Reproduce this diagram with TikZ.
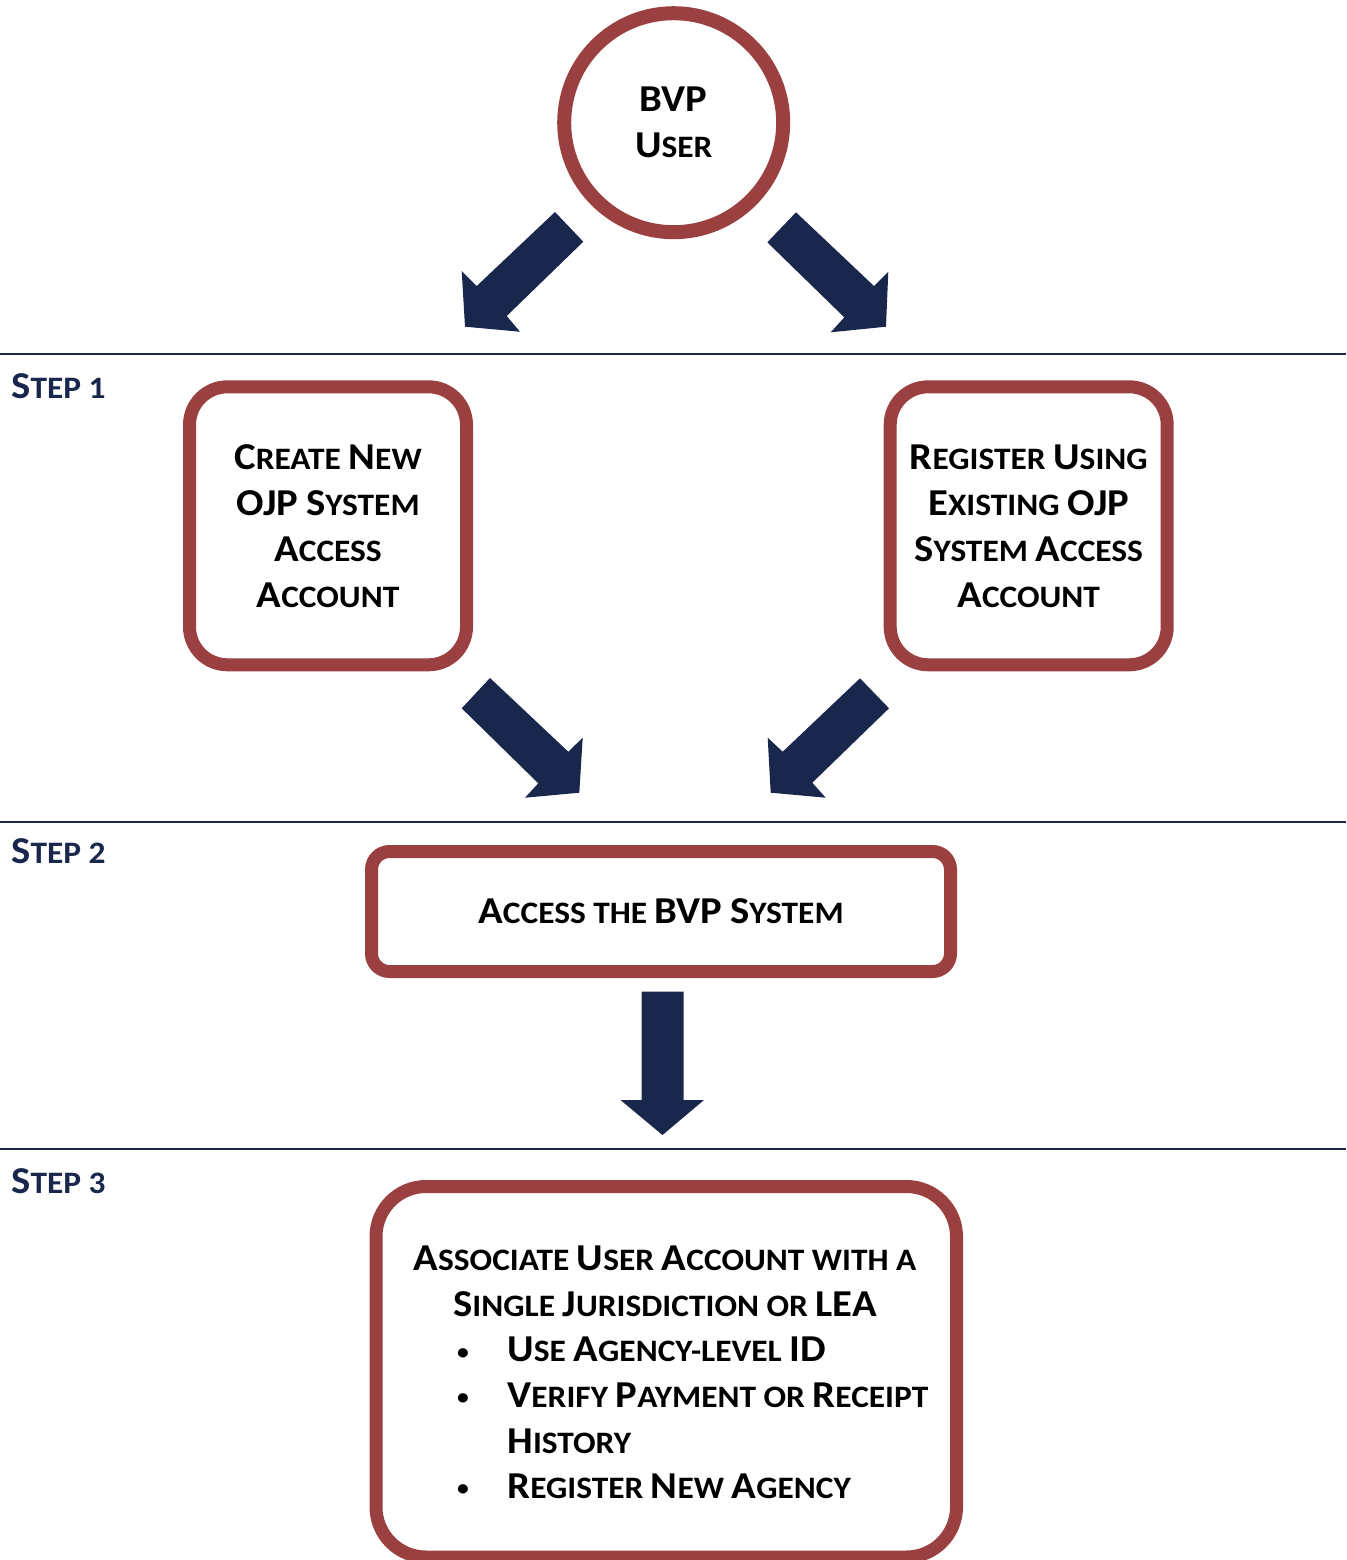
\documentclass[tikz,border=0pt]{standalone}
\usepackage{fontspec}
\setmainfont{Carlito}[FakeStretch=1.07]
\definecolor{bvpred}{RGB}{155,64,65}
\definecolor{bvpnavy}{RGB}{26,39,76}
\newcommand\capsz{\fontsize{19}{23}\selectfont}
\newcommand\smsz{\fontsize{15.6}{23}\selectfont}
\newcommand\K[1]{{\capsz #1}}
\begin{document}
\begin{tikzpicture}[x=0.5pt,y=-0.5pt,
  txt/.style={font=\bfseries\smsz, text=black, inner sep=0pt},
  bul/.style={font=\bfseries\fontsize{11}{11}\selectfont, text=black, inner sep=0pt},
  frame/.style={draw=bvpred, line width=6.5pt, fill=white, align=center, font=\bfseries\smsz, inner sep=0pt},
  steplbl/.style={font=\bfseries\smsz, text=bvpnavy, anchor=base west, inner sep=0pt},
  blockarrow/.style={fill=bvpnavy, draw=none},
  rule/.style={draw=bvpnavy, line width=1pt}]
\useasboundingbox (0,0) rectangle (1346,1560);

% separators
\draw[rule] (0,354) -- (1346,354);
\draw[rule] (0,822) -- (1346,822);
\draw[rule] (0,1149) -- (1346,1149);

% step labels
\node[steplbl] (s1) at (11,398) {\K{S}TEP 1};
\node[steplbl] (s2) at (11,863) {\K{S}TEP 2};
\node[steplbl] (s3) at (11,1193) {\K{S}TEP 3};

% user circle
\node[frame, circle, line width=7pt, minimum size=109.5pt] (user) at (673.7,122.7) {\K{BVP}\\\K{U}SER};

% step 1 boxes
\node[frame, rounded corners=19pt, minimum width=138.5pt, minimum height=139pt] (create) at (328,525.8)
  {\K{C}REATE \K{N}EW\\\K{OJP} \K{S}YSTEM\\\K{A}CCESS\\\K{A}CCOUNT};
\node[frame, rounded corners=19pt, minimum width=138.5pt, minimum height=139pt] (register) at (1028.7,525.8)
  {\K{R}EGISTER \K{U}SING\\\K{E}XISTING \K{OJP}\\\K{S}YSTEM \K{A}CCESS\\\K{A}CCOUNT};

% step 2 box
\node[frame, rounded corners=9pt, minimum width=289.5pt, minimum height=60pt] (access) at (661,911.5)
  {\K{A}CCESS THE \K{BVP} \K{S}YSTEM};

% step 3 box
\node[frame, rounded corners=25pt, minimum width=290.25pt, minimum height=185.25pt] (assoc) at (666.25,1371.75) {};
\node[txt, anchor=base] (h1) at (665,1270) {\K{A}SSOCIATE \K{U}SER \K{A}CCOUNT WITH A};
\node[txt, anchor=base] (h2) at (665,1316.7) {\K{S}INGLE \K{J}URISDICTION OR \K{LEA}};
\node[bul, anchor=base] (b1) at (463,1359) {\textbullet};
\node[bul, anchor=base] (b2) at (463,1404.6) {\textbullet};
\node[bul, anchor=base] (b3) at (463,1495.6) {\textbullet};
\node[txt, anchor=base west] (i1) at (507,1361.7) {\K{U}SE \K{A}GENCY-LEVEL \K{ID}};
\node[txt, anchor=base west] (i2) at (507,1407.3) {\K{V}ERIFY \K{P}AYMENT OR \K{R}ECEIPT};
\node[txt, anchor=base west] (i2b) at (507,1453.3) {\K{H}ISTORY};
\node[txt, anchor=base west] (i3) at (507,1498.3) {\K{R}EGISTER \K{N}EW \K{A}GENCY};

% block arrows
\fill[blockarrow] (555,212) -- (583.3,241.7) -- (506.7,316) -- (520,331.7) -- (465,326.7) -- (461.7,271) -- (476.7,286) -- cycle;
\fill[blockarrow] (796,212.3) -- (767.3,242.3) -- (844.3,317.3) -- (830.7,332.3) -- (886,326.7) -- (888.3,271.7) -- (874,286) -- cycle;
\fill[blockarrow] (490,678) -- (461.7,708.3) -- (538.3,783.3) -- (525,797.7) -- (579.3,792.7) -- (582.7,737.7) -- (568.3,751.7) -- cycle;
\fill[blockarrow] (860,678.3) -- (889,708.3) -- (812.3,782.7) -- (825.7,797.7) -- (770.7,792.7) -- (767.7,737.7) -- (782.7,751.7) -- cycle;
\fill[blockarrow] (641.6,991.7) -- (683.7,991.7) -- (683.7,1100) -- (704,1100) -- (662.5,1135) -- (620.5,1100) -- (641.6,1100) -- cycle;
\end{tikzpicture}
\end{document}
